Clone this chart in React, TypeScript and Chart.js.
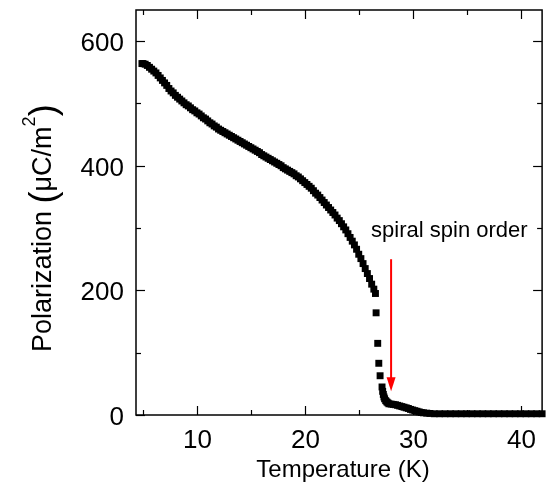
import React, { useEffect, useRef } from "react";
import { Chart, registerables } from "chart.js";

Chart.register(...registerables);

// Temperature (K)
const temps: number[] = [
  4.9, 5.0, 5.2, 5.4, 5.6, 5.8, 6.0, 6.2, 6.4, 6.6, 6.8, 7.0, 7.2, 7.4, 7.6, 7.8,
  8.0, 8.2, 8.4, 8.6, 8.8, 9.0, 9.2, 9.4, 9.6, 9.8, 10.0, 10.2, 10.4, 10.6, 10.8,
  11.0, 11.2, 11.4, 11.6, 11.8, 12.0, 12.2, 12.4, 12.6, 12.8, 13.0, 13.2, 13.4,
  13.6, 13.8, 14.0, 14.2, 14.4, 14.6, 14.8, 15.0, 15.2, 15.4, 15.6, 15.8, 16.0,
  16.2, 16.4, 16.6, 16.8, 17.0, 17.2, 17.4, 17.6, 17.8, 18.0, 18.2, 18.4, 18.6,
  18.8, 19.0, 19.2, 19.4, 19.6, 19.8, 20.0, 20.2, 20.4, 20.6, 20.8, 21.0, 21.2,
  21.4, 21.6, 21.8, 22.0, 22.2, 22.4, 22.6, 22.8, 23.0, 23.2, 23.4, 23.6, 23.8,
  24.0, 24.2, 24.4, 24.6, 24.8, 25.0, 25.2, 25.4, 25.6, 25.8, 26.0, 26.2, 26.4,
  26.55, 26.61, 26.76, 26.86, 26.98, 27.16, 27.22, 27.28, 27.34, 27.4, 27.5,
  27.6, 27.7, 27.8, 28.0, 28.2, 28.4, 28.6, 28.8, 29.0, 29.2, 29.4, 29.6, 29.8,
  30.0, 30.2, 30.4, 30.6, 30.8, 31.0, 31.3, 31.6, 32.0, 32.5, 33.0, 33.5, 34.0,
  34.5, 35.0, 35.5, 36.0, 36.5, 37.0, 37.5, 38.0, 38.5, 39.0, 39.5, 40.0, 40.5,
  41.0, 41.5, 42.0,
];

// Polarization (µC/m²)
const pols: number[] = [
  564, 564, 563, 561, 558, 555, 552, 549, 545, 541, 537, 533, 529, 524, 520, 517,
  513, 510, 507, 504, 501, 498, 496, 493, 490, 488, 485, 483, 480, 477, 475,
  472, 469, 467, 464, 462, 459, 457, 455, 453, 451, 449, 447, 445,
  443, 441, 439, 437, 435, 433, 431, 429, 427, 425, 423, 421, 418,
  416, 414, 412, 410, 408, 406, 404, 402, 400, 397, 395, 393, 391,
  389, 387, 384, 382, 379, 376, 373, 370, 367, 364, 360, 356, 353,
  349, 345, 341, 337, 333, 329, 325, 321, 316, 312, 307, 302, 297,
  291, 285, 279, 273, 266, 258, 251, 243, 235, 227, 219, 210, 202,
  195, 164, 115, 83, 63, 45, 38, 33, 29, 26, 23,
  21, 19.5, 18, 17.5, 17, 16.5, 15.5, 14.5, 13.5, 12.5, 11.5, 10.5, 9,
  8, 7, 6, 5, 4, 3.5, 3, 2.5, 2, 2, 2, 2, 2,
  2, 2, 2, 2, 2, 2, 2, 2, 2, 2, 2, 2, 2,
  2, 2, 2,
];

const xTickValues: number[] = [5, 10, 15, 20, 25, 30, 35, 40];
const xTickLabels: string[] = ["", "10", "", "20", "", "30", "", "40"];
const yTickValues: number[] = [0, 100, 200, 300, 400, 500, 600];
const yTickLabels: string[] = ["0", "", "200", "", "400", "", "600"];
const xTitle = "Temperature (K)";
const yTitleParts: string[] = ["Polarization ", "(", "\u03bcC/m", "2", ")"];
const annotationText = "spiral spin order";
const annotationAt: number[] = [33.4, 286]; // T, P
const arrowT = 28.0;
const arrowFromTo: number[] = [250, 38]; // P top, P tip

const FONT = "'Liberation Sans', Arial, Helvetica, sans-serif";

const decorPlugin = {
  id: "decor",
  afterDatasetsDraw(chart: any) {
    const { ctx, chartArea: a, scales } = chart;
    const xs = scales.x;
    const ys = scales.y;
    ctx.save();
    ctx.strokeStyle = "#000";
    ctx.lineWidth = 1.5;
    ctx.strokeRect(a.left, a.top, a.right - a.left, a.bottom - a.top);

    const seg = (x1: number, y1: number, x2: number, y2: number) => {
      ctx.beginPath();
      ctx.moveTo(x1, y1);
      ctx.lineTo(x2, y2);
      ctx.stroke();
    };
    ctx.lineWidth = 1.2;
    ctx.fillStyle = "#000";
    ctx.font = `26px ${FONT}`;
    ctx.textBaseline = "alphabetic";
    xTickValues.forEach((v, i) => {
      const px = Math.round(xs.getPixelForValue(v)) + 0.5;
      const len = xTickLabels[i] ? 9 : 5;
      seg(px, a.bottom, px, a.bottom - len);
      seg(px, a.top, px, a.top + len);
      if (xTickLabels[i]) {
        ctx.textAlign = "center";
        ctx.fillText(xTickLabels[i], px, a.bottom + 33);
      }
    });
    yTickValues.forEach((v, i) => {
      const py = Math.round(ys.getPixelForValue(v)) + 0.5;
      const len = yTickLabels[i] ? 9 : 5;
      seg(a.left, py, a.left + len, py);
      seg(a.right, py, a.right - len, py);
      if (yTickLabels[i]) {
        ctx.textAlign = "right";
        ctx.fillText(yTickLabels[i], a.left - 12, py + 9.5);
      }
    });

    // arrow
    const ax = xs.getPixelForValue(arrowT);
    const ay1 = ys.getPixelForValue(arrowFromTo[0]);
    const ay2 = ys.getPixelForValue(arrowFromTo[1]);
    ctx.strokeStyle = "#ff0000";
    ctx.fillStyle = "#ff0000";
    ctx.lineWidth = 2;
    seg(ax, ay1, ax, ay2 - 10);
    ctx.beginPath();
    ctx.moveTo(ax, ay2);
    ctx.lineTo(ax - 4.5, ay2 - 14);
    ctx.lineTo(ax + 4.5, ay2 - 14);
    ctx.closePath();
    ctx.fill();

    // annotation
    ctx.fillStyle = "#000";
    ctx.font = `22px ${FONT}`;
    ctx.textAlign = "center";
    ctx.fillText(
      annotationText,
      xs.getPixelForValue(annotationAt[0]),
      ys.getPixelForValue(annotationAt[1])
    );

    // x title
    ctx.font = `24px ${FONT}`;
    ctx.fillText(xTitle, 343, 477);

    // y title
    ctx.save();
    ctx.translate(51, 352);
    ctx.rotate(-Math.PI / 2);
    ctx.textAlign = "left";
    let x = 0;
    const part = (t: string, size: number, dy: number) => {
      ctx.font = `${size}px ${FONT}`;
      ctx.fillText(t, x, dy);
      x += ctx.measureText(t).width;
    };
    part(yTitleParts[0], 27, 0);
    part(yTitleParts[1], 36, 4);
    part(yTitleParts[2], 27, 0);
    part(yTitleParts[3], 18, -16);
    part(yTitleParts[4], 36, 4);
    ctx.restore();

    ctx.restore();
  },
};

export default function App() {
  const ref = useRef<HTMLCanvasElement | null>(null);
  useEffect(() => {
    if (!ref.current) return;
    const data = temps.map((t, i) => ({ x: t, y: pols[i] }));
    const chart = new Chart(ref.current, {
      type: "scatter",
      data: {
        datasets: [
          {
            data,
            pointStyle: "rect",
            pointRadius: 4.9,
            pointBorderWidth: 0,
            backgroundColor: "#000",
            borderColor: "#000",
            showLine: false,
            clip: false,
          } as any,
        ],
      },
      options: {
        responsive: false,
        animation: false,
        events: [],
        layout: { padding: { left: 0, right: 3, top: 10, bottom: 0 } },
        plugins: { legend: { display: false }, tooltip: { enabled: false } },
        scales: {
          x: {
            type: "linear",
            min: 4.35,
            max: 42,
            grid: { display: false, drawTicks: false },
            border: { display: false },
            ticks: { display: false },
            afterFit: (s: any) => {
              s.height = 74;
            },
          },
          y: {
            type: "linear",
            min: 0,
            max: 650,
            grid: { display: false, drawTicks: false },
            border: { display: false },
            ticks: { display: false },
            afterFit: (s: any) => {
              s.width = 136;
            },
          },
        },
      },
      plugins: [decorPlugin],
    });
    return () => chart.destroy();
  }, []);
  return (
    <div style={{ position: "fixed", left: 0, top: 0, width: 547, height: 489, background: "#fff" }}>
      <canvas ref={ref} width={547} height={489} style={{ display: "block" }} />
    </div>
  );
}
